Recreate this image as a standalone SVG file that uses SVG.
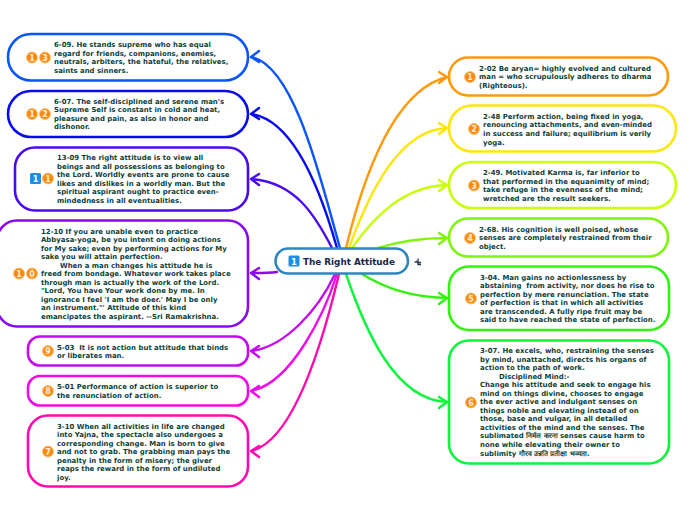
<svg xmlns="http://www.w3.org/2000/svg" width="696" height="520" viewBox="0 0 696 520">
<style>
text{font-family:"DejaVu Sans",Verdana,sans-serif;font-weight:700;white-space:pre;}
.t{font-size:6.95px;fill:#0f3f3a;}
.b{fill:#fff;stroke-width:2.6;}
.c{fill:none;stroke-width:2.4;stroke-linecap:round;stroke-linejoin:round;}
.n{font-size:8px;fill:#ffeeda;text-anchor:middle;}
.o{fill:#fb8a0c;stroke:#ffc27a;stroke-width:1;}
</style>
<rect width="696" height="520" fill="#fff"/>
<g id="connectors">
<path class="c" stroke="#0a55ff" d="M340 248C322 185 295 65 251 57M259 51L251 57L259 62"/>
<path class="c" stroke="#0a0aef" d="M337 248C322 195 295 120 251 114M259 108L251 114L259 119"/>
<path class="c" stroke="#4a0aef" d="M332 248C315 215 295 182 251 179M259 174L251 179L259 185"/>
<path class="c" stroke="#8a0aef" d="M277 272C268 273 260 273 251 273M259 268L251 273L259 279"/>
<path class="c" stroke="#c40aef" d="M335 274C318 310 285 347 251 351M259 346L251 351L259 357"/>
<path class="c" stroke="#f00ae8" d="M337 274C325 312 292 383 251 391M259 386L251 391L259 397"/>
<path class="c" stroke="#ff0ab0" d="M339 274C328 320 298 440 251 451M259 446L251 451L259 457"/>
<path class="c" stroke="#ff9a0a" d="M346 248C365 170 395 90 447 77M439 72L447 77L439 83"/>
<path class="c" stroke="#ffe60a" d="M349 248C370 190 400 130 447 128M439 123L447 128L439 134"/>
<path class="c" stroke="#c8ff0a" d="M352 248C375 215 405 186 447 185M439 180L447 185L439 191"/>
<path class="c" stroke="#80f50a" d="M378 248C400 241 420 238 447 238M439 233L447 238L439 244"/>
<path class="c" stroke="#30f50a" d="M362 274C385 288 410 297 447 298M439 293L447 298L439 304"/>
<path class="c" stroke="#0af53c" d="M346 274C365 330 395 400 447 402M439 397L447 402L439 408"/>
</g>
<g id="n13"><rect class="b" stroke="#0a55ff" x="8" y="34" width="240" height="46.500" rx="23"/><circle class="o" cx="32" cy="57.500" r="5.500"/><text class="n" x="32" y="60.500">1</text><circle class="o" cx="45" cy="57.500" r="5.500"/><text class="n" x="45" y="60.500">3</text>
<text class="t"><tspan x="54" y="47">6-09. He stands supreme who has equal</tspan><tspan x="54" y="55.500">regard for friends, companions, enemies,</tspan><tspan x="54" y="64">neutrals, arbiters, the hateful, the relatives,</tspan><tspan x="54" y="73">saints and sinners.</tspan></text></g>
<g id="n12"><rect class="b" stroke="#0a0aef" x="8" y="91" width="240" height="46" rx="23"/><circle class="o" cx="32" cy="114" r="5.500"/><text class="n" x="32" y="117">1</text><circle class="o" cx="45" cy="114" r="5.500"/><text class="n" x="45" y="117">2</text>
<text class="t"><tspan x="54" y="104">6-07. The self-disciplined and serene man's</tspan><tspan x="54" y="112">Supreme Self is constant in cold and heat,</tspan><tspan x="54" y="121">pleasure and pain, as also in honor and</tspan><tspan x="54" y="129">dishonor.</tspan></text></g>
<g id="n11"><rect class="b" stroke="#4a0aef" x="15" y="147.500" width="233" height="63" rx="20"/><rect x="30" y="173" width="11" height="11" rx="1.500" fill="#1a8ee8"/><text class="n" x="35.500" y="182" style="fill:#fff">1</text><circle class="o" cx="48" cy="178.500" r="5.500"/><text class="n" x="48" y="181.500">1</text>
<text class="t"><tspan x="57" y="160">13-09 The right attitude is to view all</tspan><tspan x="57" y="169">beings and all possessions as belonging to</tspan><tspan x="57" y="177">the Lord. Worldly events are prone to cause</tspan><tspan x="57" y="186">likes and dislikes in a worldly man. But the</tspan><tspan x="57" y="194">spiritual aspirant ought to practice even-</tspan><tspan x="57" y="203">mindedness in all eventualities.</tspan></text></g>
<g id="n10"><rect class="b" stroke="#8a0aef" x="-3" y="220.500" width="251" height="106" rx="20"/><circle class="o" cx="19" cy="273.500" r="5.500"/><text class="n" x="19" y="276.500">1</text><circle class="o" cx="32" cy="273.500" r="5.500"/><text class="n" x="32" y="276.500">0</text>
<text class="t"><tspan x="41" y="234">12-10 If you are unable even to practice</tspan><tspan x="41" y="242">Abbyasa-yoga, be you intent on doing actions</tspan><tspan x="41" y="251">for My sake; even by performing actions for My</tspan><tspan x="41" y="259">sake you will attain perfection.</tspan><tspan x="60" y="268">When a man changes his attitude he is</tspan><tspan x="41" y="276">freed from bondage. Whatever work takes place</tspan><tspan x="41" y="285">through man is actually the work of the Lord.</tspan><tspan x="41" y="293">"Lord, You have Your work done by me. In</tspan><tspan x="41" y="302">ignorance I feel 'I am the doer.' May I be only</tspan><tspan x="41" y="310">an instrument."' Attitude of this kind</tspan><tspan x="41" y="319">emancipates the aspirant. --Sri Ramakrishna.</tspan></text></g>
<g id="n9"><rect class="b" stroke="#c40aef" x="28" y="336.500" width="220" height="29" rx="12"/><circle class="o" cx="48" cy="351" r="5.500"/><text class="n" x="48" y="354">9</text>
<text class="t"><tspan x="57" y="350">5-03  It is not action but attitude that binds</tspan><tspan x="57" y="358">or liberates man.</tspan></text></g>
<g id="n8"><rect class="b" stroke="#f00ae8" x="28" y="376" width="220" height="29.500" rx="12"/><circle class="o" cx="48" cy="391" r="5.500"/><text class="n" x="48" y="394">8</text>
<text class="t"><tspan x="57" y="389">5-01 Performance of action is superior to</tspan><tspan x="57" y="398">the renunciation of action.</tspan></text></g>
<g id="n7"><rect class="b" stroke="#ff0ab0" x="28" y="415.500" width="220" height="71" rx="20"/><circle class="o" cx="48" cy="451.500" r="5.500"/><text class="n" x="48" y="454.500">7</text>
<text class="t"><tspan x="57" y="429">3-10 When all activities in life are changed</tspan><tspan x="57" y="437">into Yajna, the spectacle also undergoes a</tspan><tspan x="57" y="446">corresponding change. Man is born to give</tspan><tspan x="57" y="454">and not to grab. The grabbing man pays the</tspan><tspan x="57" y="463">penalty in the form of misery; the giver</tspan><tspan x="57" y="471">reaps the reward in the form of undiluted</tspan><tspan x="57" y="480">joy.</tspan></text></g>
<g id="n1"><rect class="b" stroke="#ff9a0a" x="449" y="57.500" width="219" height="38" rx="19"/><circle class="o" cx="470" cy="77" r="5.500"/><text class="n" x="470" y="80">1</text>
<text class="t"><tspan x="479" y="71">2-02 Be aryan= highly evolved and cultured</tspan><tspan x="479" y="79">man = who scrupulously adheres to dharma</tspan><tspan x="479" y="88">(Righteous).</tspan></text></g>
<g id="n2"><rect class="b" stroke="#ffe60a" x="449" y="105.500" width="227" height="46" rx="23"/><circle class="o" cx="474" cy="129" r="5.500"/><text class="n" x="474" y="132">2</text>
<text class="t"><tspan x="483" y="119">2-48 Perform action, being fixed in yoga,</tspan><tspan x="483" y="127">renouncing attachments, and even-minded</tspan><tspan x="483" y="136">in success and failure; equilibrium is verily</tspan><tspan x="483" y="145">yoga.</tspan></text></g>
<g id="n3"><rect class="b" stroke="#c8ff0a" x="449" y="162" width="227" height="46" rx="23"/><circle class="o" cx="474" cy="185.500" r="5.500"/><text class="n" x="474" y="188.500">3</text>
<text class="t"><tspan x="483" y="175">2-49. Motivated Karma is, far inferior to</tspan><tspan x="483" y="184">that performed in the equanimity of mind;</tspan><tspan x="483" y="192">take refuge in the evenness of the mind;</tspan><tspan x="483" y="201">wretched are the result seekers.</tspan></text></g>
<g id="n4"><rect class="b" stroke="#80f50a" x="449" y="218.500" width="219" height="38" rx="19"/><circle class="o" cx="470" cy="238" r="5.500"/><text class="n" x="470" y="241">4</text>
<text class="t"><tspan x="479" y="232">2-68. His cognition is well poised, whose</tspan><tspan x="479" y="240">senses are completely restrained from their</tspan><tspan x="479" y="249">object.</tspan></text></g>
<g id="n5"><rect class="b" stroke="#30f50a" x="449" y="266.500" width="220" height="63.500" rx="20"/><circle class="o" cx="471" cy="298.500" r="5.500"/><text class="n" x="471" y="301.500">5</text>
<text class="t"><tspan x="480" y="280">3-04. Man gains no actionlessness by</tspan><tspan x="480" y="288">abstaining  from activity, nor does he rise to</tspan><tspan x="480" y="297">perfection by mere renunciation. The state</tspan><tspan x="480" y="305">of perfection is that in which all activities</tspan><tspan x="480" y="314">are transcended. A fully ripe fruit may be</tspan><tspan x="480" y="322">said to have reached the state of perfection.</tspan></text></g>
<g id="n6"><rect class="b" stroke="#0af53c" x="449" y="340.500" width="220" height="123" rx="20"/><circle class="o" cx="471" cy="402.500" r="5.500"/><text class="n" x="471" y="405.500">6</text>
<text class="t"><tspan x="480" y="353">3-07. He excels, who, restraining the senses</tspan><tspan x="480" y="362">by mind, unattached, directs his organs of</tspan><tspan x="480" y="370">action to the path of work.</tspan><tspan x="499" y="379">Disciplined Mind:-</tspan><tspan x="480" y="387">Change his attitude and seek to engage his</tspan><tspan x="480" y="396">mind on things divine, chooses to engage</tspan><tspan x="480" y="404">the ever active and indulgent senses on</tspan><tspan x="480" y="413">things noble and elevating instead of on</tspan><tspan x="480" y="421">those, base and vulgar, in all detailed</tspan><tspan x="480" y="430">activities of the mind and the senses. The</tspan><tspan x="480" y="438">sublimated निर्मल करना senses cause harm to</tspan><tspan x="480" y="447">none while elevating their owner to</tspan><tspan x="480" y="456">sublimity गौरव उन्नति प्रतीक्षा भव्यता.</tspan></text></g>
<g id="center"><rect fill="#fff" stroke="#2e86c1" stroke-width="2.600" x="275.500" y="248.500" width="132.500" height="25" rx="12.500"/><rect x="288.500" y="255.500" width="11" height="11" rx="1.500" fill="#1a8ee8"/><text x="294" y="264.500" font-size="8.500" fill="#fff" text-anchor="middle">1</text><text x="303" y="264.500" font-size="8.800" fill="#14284b">The Right Attitude</text><path d="M414.500 262.500L417 261M418 258.500L418 264.500L421 264.500M416.500 262.500L421 262.500" fill="none" stroke="#26384f" stroke-width="1.300"/></g>
</svg>
